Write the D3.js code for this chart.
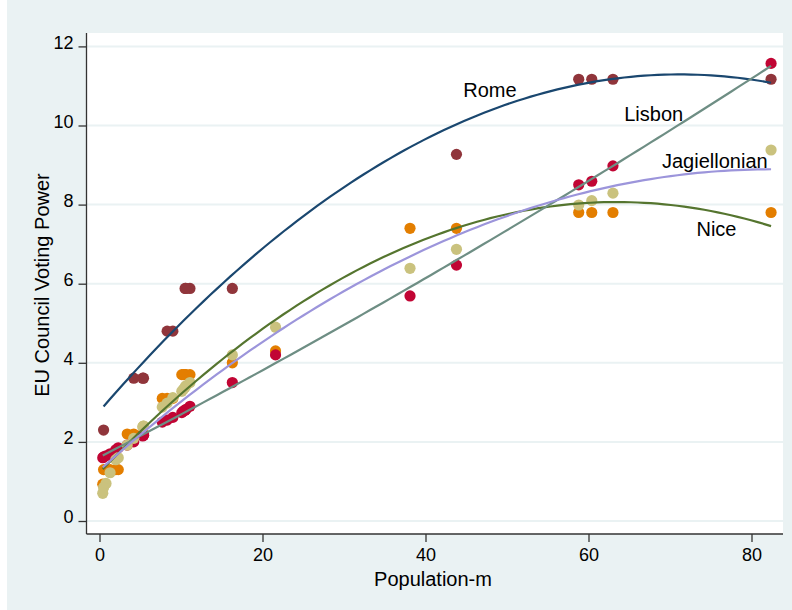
<!DOCTYPE html>
<html>
<head>
<meta charset="utf-8">
<script src="https://cdn.jsdelivr.net/npm/d3@7"></script>
<style>
  html, body { margin: 0; padding: 0; background: #ffffff; }
  svg { display: block; }
  text { font-family: "Liberation Sans", Arial, sans-serif; fill: #000; }
</style>
</head>
<body>
<svg id="chart" width="792" height="610"></svg>
<script>
// ---- Data ----
// EU27 members, population in millions
const countries = ["Germany","France","UK","Italy","Spain","Poland","Romania","Netherlands","Greece","Portugal","Belgium","Czech Rep.","Hungary","Sweden","Austria","Bulgaria","Denmark","Slovakia","Finland","Ireland","Lithuania","Latvia","Slovenia","Estonia","Cyprus","Luxembourg","Malta"];
const population = [82.4, 63.0, 60.4, 58.8, 43.8, 38.1, 21.6, 16.3, 11.1, 10.6, 10.5, 10.3, 10.1, 9.0, 8.3, 7.7, 5.4, 5.4, 5.3, 4.2, 3.4, 2.3, 2.0, 1.3, 0.8, 0.5, 0.4];
const nicePower = [7.8, 7.8, 7.8, 7.8, 7.4, 7.4, 4.3, 4.0, 3.7, 3.7, 3.7, 3.7, 3.7, 3.1, 3.1, 3.1, 2.2, 2.2, 2.2, 2.2, 2.2, 1.3, 1.3, 1.3, 1.3, 1.3, 0.93];
const lisbonPower = [11.57, 8.98, 8.59, 8.50, 6.47, 5.69, 4.20, 3.50, 2.90, 2.82, 2.80, 2.78, 2.74, 2.62, 2.55, 2.50, 2.17, 2.17, 2.15, 2.00, 1.92, 1.85, 1.80, 1.70, 1.65, 1.62, 1.60];
const jagPower = [9.38, 8.29, 8.10, 7.99, 6.87, 6.39, 4.90, 4.20, 3.50, 3.42, 3.38, 3.33, 3.28, 3.12, 2.98, 2.88, 2.40, 2.40, 2.38, 2.09, 1.92, 1.60, 1.55, 1.22, 0.95, 0.85, 0.70];
// EU15 members (Treaty of Rome system)
const romePopulation = [82.4, 63.0, 60.4, 58.8, 43.8, 16.3, 11.1, 10.6, 10.5, 9.0, 8.3, 5.4, 5.3, 4.2, 0.5];
const romePower = [11.17, 11.17, 11.17, 11.17, 9.27, 5.88, 5.88, 5.88, 5.88, 4.80, 4.80, 3.61, 3.61, 3.61, 2.30];

const xTicks = [0, 20, 40, 60, 80];
const yTicks = [0, 2, 4, 6, 8, 10, 12];
const seriesNames = ["Rome", "Lisbon", "Jagiellonian", "Nice"];
const labelX = [47.9, 68.0, 75.5, 75.7];
const labelY = [10.9, 10.3, 9.11, 7.39];

// ---- Layout ----
const W = 792, H = 610;
const plot = { left: 86.5, right: 783, top: 33, bottom: 534 };
const bg = "#EAF2F3";

const svg = d3.select("#chart");
svg.append("rect").attr("x", 7).attr("y", 0).attr("width", W - 7).attr("height", H).attr("fill", bg);
svg.append("rect").attr("x", plot.left).attr("y", plot.top)
   .attr("width", plot.right - plot.left).attr("height", plot.bottom - plot.top).attr("fill", "#ffffff");

const x = d3.scaleLinear().domain([0, 80]).range([99.5, 99.5 + 8.15 * 80]);
const y = d3.scaleLinear().domain([0, 12]).range([521, 521 - 39.55 * 12]);

// gridlines
svg.append("g").selectAll("line").data(yTicks).join("line")
  .attr("x1", plot.left).attr("x2", plot.right)
  .attr("y1", d => y(d)).attr("y2", d => y(d))
  .attr("stroke", bg).attr("stroke-width", 2);

// ---- quadratic least squares fit ----
function qfit(xs, ys) {
  const n = xs.length;
  let s = [0,0,0,0,0], t = [0,0,0];
  for (let i = 0; i < n; i++) {
    const xi = xs[i], yi = ys[i];
    let p = 1;
    for (let k = 0; k < 5; k++) { s[k] += p; p *= xi; }
    t[0] += yi; t[1] += yi * xi; t[2] += yi * xi * xi;
  }
  const A = [[s[0], s[1], s[2], t[0]], [s[1], s[2], s[3], t[1]], [s[2], s[3], s[4], t[2]]];
  for (let c = 0; c < 3; c++) {
    let piv = c;
    for (let r = c + 1; r < 3; r++) if (Math.abs(A[r][c]) > Math.abs(A[piv][c])) piv = r;
    [A[c], A[piv]] = [A[piv], A[c]];
    for (let r = 0; r < 3; r++) {
      if (r === c) continue;
      const f = A[r][c] / A[c][c];
      for (let k = c; k < 4; k++) A[r][k] -= f * A[c][k];
    }
  }
  const b = [A[0][3] / A[0][0], A[1][3] / A[1][1], A[2][3] / A[2][2]];
  const lo = d3.min(xs), hi = d3.max(xs);
  const pts = d3.range(0, 101).map(i => {
    const xv = lo + (hi - lo) * i / 100;
    return [xv, b[0] + b[1] * xv + b[2] * xv * xv];
  });
  return pts;
}

const line = d3.line().x(d => x(d[0])).y(d => y(d[1]));
const r = 5.6;

function scatter(xs, ys, color) {
  svg.append("g").selectAll("circle").data(xs.map((v, i) => [v, ys[i]])).join("circle")
    .attr("cx", d => x(d[0])).attr("cy", d => y(d[1])).attr("r", r)
    .attr("fill", color);
}

scatter(romePopulation, romePower, "#90353B");
scatter(population, nicePower, "#E37E00");
scatter(population, lisbonPower, "#C10534");
scatter(population, jagPower, "#CAC27E");

const fits = [
  [romePopulation, romePower, "#1A476F"],
  [population, nicePower, "#55752F"],
  [population, lisbonPower, "#6E8E84"],
  [population, jagPower, "#9C95DB"]
];
fits.forEach(([xs, ys, c]) => {
  svg.append("path").datum(qfit(xs, ys)).attr("d", line)
    .attr("fill", "none").attr("stroke", c).attr("stroke-width", 2.2);
});

// axes
const axisColor = "#333";
svg.append("line").attr("x1", plot.left).attr("x2", plot.left)
  .attr("y1", plot.top).attr("y2", plot.bottom).attr("stroke", axisColor).attr("stroke-width", 1.3);
svg.append("line").attr("x1", plot.left).attr("x2", plot.right)
  .attr("y1", plot.bottom).attr("y2", plot.bottom).attr("stroke", axisColor).attr("stroke-width", 1.3);

const yAxis = d3.axisLeft(y).tickValues(yTicks).tickSize(8).tickPadding(5).tickFormat(d3.format("d"));
const gy = svg.append("g").attr("transform", `translate(${plot.left},0)`).call(yAxis);
gy.select(".domain").remove();
gy.selectAll(".tick line").attr("stroke", axisColor).attr("stroke-width", 1.3);
gy.selectAll(".tick text").attr("font-size", 18).attr("font-family", "Liberation Sans, Arial, sans-serif")
  .attr("fill", "#000").attr("dy", "0.1em");

const xAxis = d3.axisBottom(x).tickValues(xTicks).tickSize(8).tickPadding(6).tickFormat(d3.format("d"));
const gx = svg.append("g").attr("transform", `translate(0,${plot.bottom})`).call(xAxis);
gx.select(".domain").remove();
gx.selectAll(".tick line").attr("stroke", axisColor).attr("stroke-width", 1.3);
gx.selectAll(".tick text").attr("font-size", 18).attr("font-family", "Liberation Sans, Arial, sans-serif")
  .attr("fill", "#000");

// axis titles
svg.append("text").attr("x", 433).attr("y", 586).attr("text-anchor", "middle")
  .attr("font-size", 20).text("Population-m");
svg.append("text").attr("transform", "translate(49,285) rotate(-90)").attr("text-anchor", "middle")
  .attr("font-size", 20).text("EU Council Voting Power");

// series labels
svg.append("g").selectAll("text").data(seriesNames).join("text")
  .attr("x", (d, i) => x(labelX[i])).attr("y", (d, i) => y(labelY[i]))
  .attr("dy", "0.36em").attr("text-anchor", "middle").attr("font-size", 20)
  .text(d => d);
</script>
</body>
</html>
